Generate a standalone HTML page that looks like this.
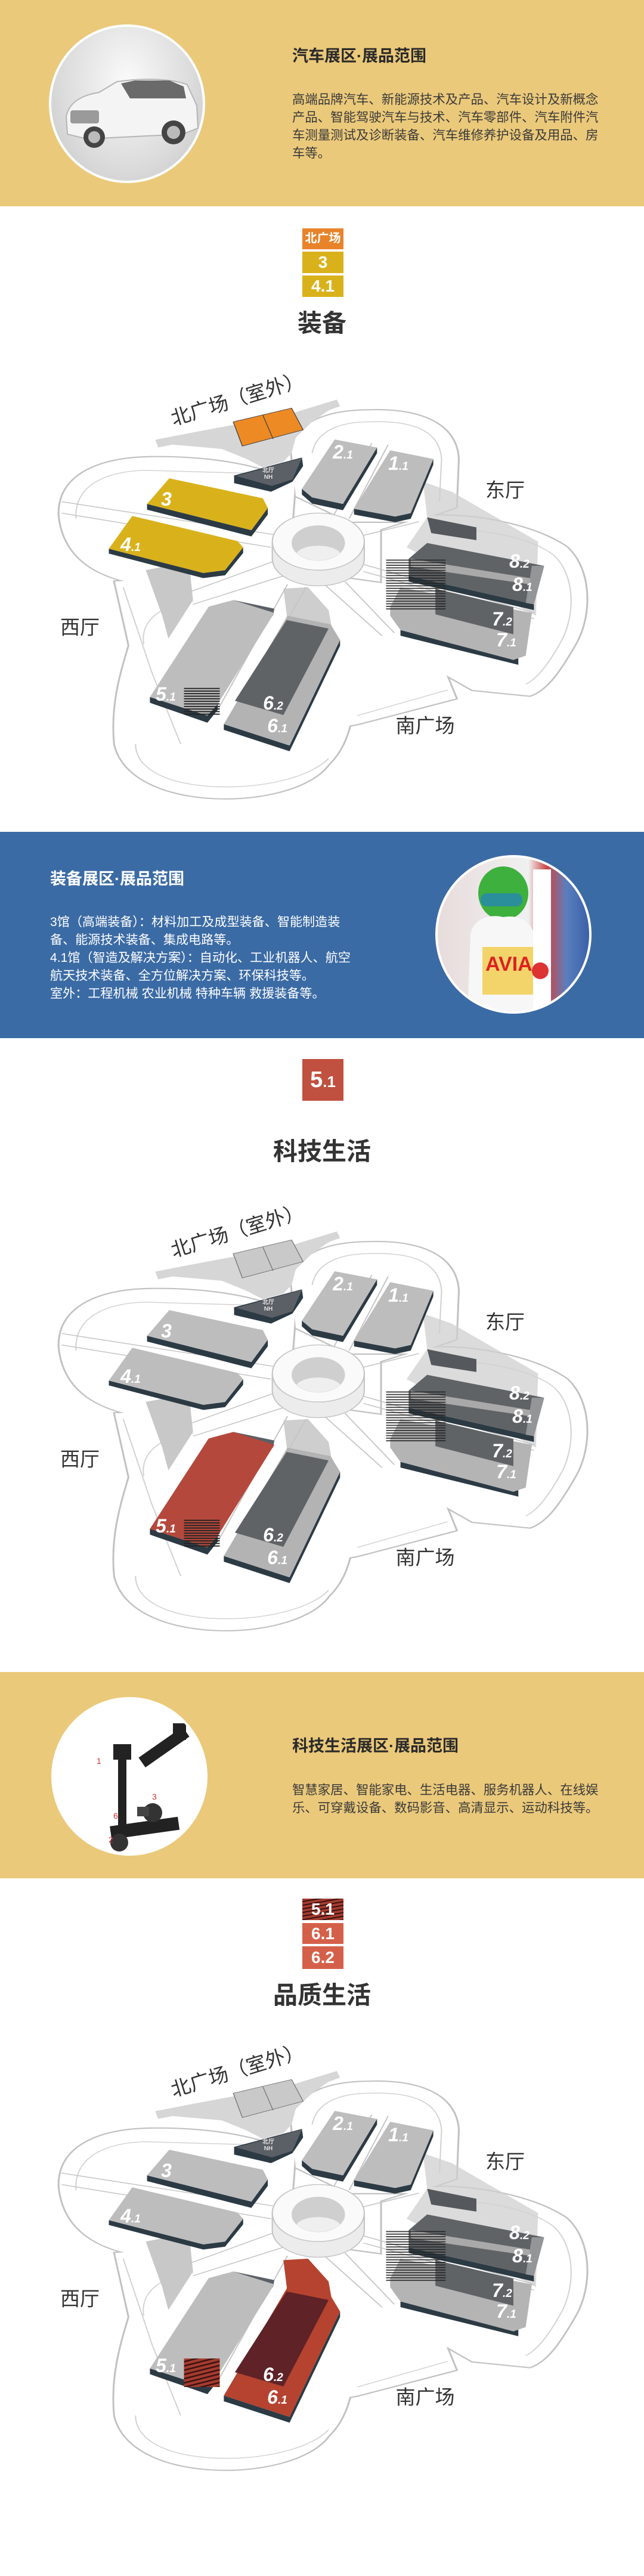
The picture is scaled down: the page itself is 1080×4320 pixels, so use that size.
<!DOCTYPE html>
<html><head><meta charset="utf-8">
<style>
*{margin:0;padding:0;box-sizing:border-box}
body{width:1080px;height:4320px;background:#fff;position:relative;overflow:hidden;font-family:"Liberation Sans","Noto Sans CJK SC",sans-serif}
.abs{position:absolute}
.band{position:absolute;left:0;width:1080px}
.title{position:absolute;font-weight:bold;font-size:27px;line-height:36px;white-space:nowrap}
.body{position:absolute;font-size:21.4px;line-height:30px}
.circ{position:absolute;width:262px;height:266px;border-radius:50%;border:4px solid #fff;overflow:hidden}
.badge{position:absolute;left:507px;width:69px;color:#fff;font-weight:bold;text-align:center;font-size:28px}
.sect{position:absolute;left:0;width:1080px;text-align:center;font-weight:bold;color:#333;font-size:41px;line-height:50px}
.map{position:absolute;left:0;width:1080px;height:750px}
.map svg{position:absolute;left:0;top:0}
.lbl{position:absolute;transform:translate(-50%,-50%);color:#fff;font-weight:bold;font-style:italic;font-size:32px;white-space:nowrap;line-height:1}
.lbl small{font-size:19px}
.zh{position:absolute;transform:translate(-50%,-50%);color:#333;font-size:33px;white-space:nowrap;line-height:1}
.nh{position:absolute;transform:translate(-50%,-50%);color:#e0e0e0;font-size:10px;line-height:11px;text-align:center;font-weight:bold}
</style></head><body>

<svg width="0" height="0" style="position:absolute">
<defs>
<pattern id="hatch" patternUnits="userSpaceOnUse" width="12" height="9"><rect width="12" height="4" fill="#222"/></pattern>
<pattern id="rhatch" patternUnits="userSpaceOnUse" width="14" height="14" patternTransform="rotate(-20)"><rect width="14" height="14" fill="#a33c2e"/><rect width="14" height="5" fill="#3a1010"/></pattern>
<g id="lobes">
<path d="M145,450 C140,300 250,250 350,245 C450,240 560,255 640,290 L720,300 L700,680 L450,700 C300,700 160,650 145,450 Z"/>
<path d="M710,220 C720,120 800,80 900,80 C1000,75 1110,110 1115,250 L1110,420 L1010,470 L850,470 L720,380 Z"/>
<path d="M930,500 L1040,450 C1150,440 1300,480 1380,560 C1440,640 1440,800 1400,900 C1360,1000 1330,1060 1290,1080 L1150,1060 L930,880 Z"/>
<path d="M320,880 C300,780 380,720 460,710 L700,700 L860,740 L870,1000 C860,1150 850,1250 800,1320 C760,1400 650,1440 550,1440 C420,1440 300,1380 280,1250 C270,1100 300,980 320,880 Z"/>
<polygon points="280,680 700,640 1000,700 1110,1090 870,1180 430,1290 330,1000"/>
</g>
<g id="base">
<use href="#lobes" fill="none" stroke="#c2c2c2" stroke-width="9"/>
<use href="#lobes" fill="#fff"/>
<g fill="none" stroke="#d2d2d2" stroke-width="3">
<path d="M185,460 C180,340 260,295 350,290 L600,300"/>
<path d="M760,230 C770,150 830,120 900,120 C990,115 1070,140 1075,250 L1070,400"/>
<path d="M1060,500 C1160,490 1290,520 1350,590 C1400,660 1400,790 1370,880 C1340,960 1310,1020 1280,1040"/>
<path d="M350,900 C340,810 400,760 470,750 M330,1250 C330,1350 430,1400 550,1400 C660,1400 760,1360 800,1300"/>
<path d="M300,700 L370,1000 L440,1250 M870,1150 L1090,1060"/>
</g>
<polygon points="378,183 460,160 700,95 820,42 828,65 800,80 760,120 720,175 710,230 690,260 640,280 600,250 540,215 420,200 385,210" fill="#d6d6d6"/>
<polygon points="355,640 460,610 470,745 410,880 395,800" fill="#c8c8c8"/>
<polygon points="1030,330 1100,365 1310,540 1305,800 990,560 1040,455" fill="#cfcfcf" opacity=".75"/>
<polygon points="1040,455 1160,490 1160,535 1050,510" fill="#55595d"/>
<g stroke="#c4c4c4" stroke-width="3" fill="none">
<line x1="150" y1="400" x2="665" y2="515"/><line x1="150" y1="440" x2="660" y2="560"/>
<line x1="905" y1="195" x2="810" y2="455"/><line x1="945" y1="200" x2="850" y2="460"/>
<line x1="885" y1="620" x2="1300" y2="790"/><line x1="885" y1="645" x2="1300" y2="810"/>
<line x1="700" y1="690" x2="530" y2="1130"/><line x1="745" y1="700" x2="565" y2="1160"/>
<line x1="790" y1="690" x2="930" y2="870"/><line x1="840" y1="680" x2="960" y2="860"/>
<line x1="665" y1="610" x2="455" y2="720"/><line x1="690" y1="660" x2="470" y2="760"/>
<line x1="880" y1="520" x2="1020" y2="470"/>
</g>
<path d="M663,540 L663,600 A112,95 0 0 0 887,600 L887,540 Z" fill="#ececec" stroke="#c4c4c4" stroke-width="3"/>
<ellipse cx="775" cy="540" rx="112" ry="100" fill="#fafafa" stroke="#c4c4c4" stroke-width="3"/>
<ellipse cx="775" cy="545" rx="65" ry="62" fill="#cfcfcf"/>
<path d="M722,580 A55,35 0 0 1 828,580 A65,62 0 0 1 722,580 Z" fill="#efefef"/>
<polygon points="570,308 735,245 738,275 712,330 660,365 570,335" fill="#2c3a44"/>
<polygon points="575,310 735,247 712,322 662,345" fill="#5b5f66"/>
<g fill="#2c3a44">
<polygon points="358,408 612,500 652,422 652,445 612,522 358,428"/>
<polygon points="265,565 495,650 548,640 592,560 592,580 548,658 495,668 265,582"/>
<polygon points="735,355 760,385 835,408 918,210 918,230 835,430 760,407 735,375"/>
<polygon points="862,425 962,452 1000,440 1055,250 1055,270 1000,460 962,472 862,445"/>
<polygon points="365,1085 505,1150 530,1110 530,1130 505,1175 365,1105"/>
<polygon points="545,1180 705,1255 828,885 828,905 705,1275 545,1200"/>
<polygon points="995,660 1300,760 1300,780 995,680"/>
<polygon points="975,850 1262,950 1262,972 975,870"/>
</g>
<polygon points="995,600 1040,545 1325,625 1300,760 995,660" fill="#606366"/>
<polygon points="1000,600 1290,668 1290,690 1000,628" fill="#a9a9a9"/>
<polygon points="1295,625 1325,625 1300,760 1280,755" fill="#b8b8b8" opacity=".6"/>
<polygon points="950,770 975,700 1295,790 1280,940 1250,955 975,850 950,800" fill="#b4b4b4"/>
<polygon points="1060,705 1250,770 1250,865 1060,795" fill="#606366"/>
<rect x="940" y="600" width="145" height="180" fill="url(#hatch)" opacity=".85"/>
<polygon points="815,182 918,210 835,408 760,385 735,355" fill="#bdbdbd"/>
<polygon points="950,220 1055,250 1000,440 962,452 862,425" fill="#bdbdbd"/>
<polygon points="568,745 668,775 665,800 560,770" fill="#5b5f66"/>
</g>
<polygon id="h3" points="358,408 412,318 640,388 652,422 612,500"/>
<polygon id="h41" points="265,565 322,450 578,538 592,560 548,640 495,650"/>
<polygon id="h5" points="365,1085 508,768 568,745 668,790 530,1110 505,1150"/>
<polygon id="h6" points="545,1180 700,800 805,830 828,885 705,1255"/>
<polygon id="h62" points="572,1098 698,815 800,845 690,1148"/>
<polygon id="nbox" points="568,120 710,72 738,148 590,205"/>
<polygon id="sband" points="690,705 750,700 800,780 810,860 700,820"/>
<rect id="h5hatch" x="448" y="1050" width="87" height="100"/>
</defs>
</svg>

<div class="band" style="top:0;height:346px;background:#ebc97a"></div>
<div class="circ" style="left:82px;top:41px;background:radial-gradient(ellipse at 50% 35%,#fafafa 0%,#dcdcdc 60%,#c4c4c4 100%)">
<svg width="262" height="266" viewBox="0 0 262 266">
<path d="M25,150 C30,128 48,115 80,110 L110,92 C150,86 200,86 228,97 L244,132 L246,170 L220,180 L60,188 L27,180 Z" fill="#f4f4f4" stroke="#b5b5b5" stroke-width="2"/>
<path d="M117,95 L140,90 L198,90 L222,100 L226,120 L132,120 Z" fill="#6a6a6a"/>
<rect x="32" y="140" width="48" height="22" fill="#9a9a9a" rx="4"/>
<circle cx="72" cy="185" r="18" fill="#444"/><circle cx="72" cy="185" r="10" fill="#bbb"/>
<circle cx="205" cy="177" r="20" fill="#444"/><circle cx="205" cy="177" r="11" fill="#bbb"/>
</svg></div>
<div class="title" style="left:490px;top:76px;color:#2a2a2a">汽车展区·展品范围</div>
<div class="body" style="left:490px;top:152px;width:520px;color:#3a3a3a">高端品牌汽车、新能源技术及产品、汽车设计及新概念产品、智能驾驶汽车与技术、汽车零部件、汽车附件汽车测量测试及诊断装备、汽车维修养护设备及用品、房车等。</div>

<div class="badge" style="top:383px;height:35px;background:#e8832a;font-size:20px;line-height:35px">北广场</div>
<div class="badge" style="top:422px;height:36px;background:#d9b21b;line-height:36px">3</div>
<div class="badge" style="top:462px;height:36px;background:#d9b21b;line-height:36px">4.1</div>
<div class="sect" style="top:517px">装备</div>

<div class="map" style="top:650px">
<svg width="1080" height="750" viewBox="0 0 1568 1568" preserveAspectRatio="none">
<use href="#base"/>
<use href="#nbox" fill="#ee8a24" stroke="#444" stroke-width="2"/><line x1="640" y1="97" x2="665" y2="180" stroke="#444" stroke-width="2"/>
<use href="#h3" fill="#d9b21b"/><use href="#h41" fill="#d9b21b"/>
<use href="#sband" fill="#c5c5c5" opacity=".85"/>
<use href="#h5" fill="#bdbdbd"/><use href="#h5hatch" fill="url(#hatch)"/>
<use href="#h6" fill="#b3b3b3"/><use href="#h62" fill="#5f6366"/>
</svg>
</div>

<div class="band" style="top:1395px;height:346px;background:#3b6ba5"></div>
<div class="title" style="left:84px;top:1456px;color:#fff">装备展区·展品范围</div>
<div class="body" style="left:84px;top:1532px;width:515px;color:#fff;font-size:21.1px">3馆（高端装备）：材料加工及成型装备、智能制造装备、能源技术装备、集成电路等。<br>4.1馆（智造及解决方案）：自动化、工业机器人、航空航天技术装备、全方位解决方案、环保科技等。<br>室外：工程机械 农业机械 特种车辆 救援装备等。</div>
<div class="circ" style="left:730px;top:1434px;background:linear-gradient(90deg,#e8dcdc 0%,#f0f0f0 60%,#c44 72%,#5a7fbf 85%,#3a60a8 100%)">
<svg width="262" height="266" viewBox="0 0 262 266">
<ellipse cx="110" cy="60" rx="42" ry="45" fill="#3db03d"/>
<rect x="72" y="60" width="70" height="22" rx="10" fill="#2a8f9a"/>
<path d="M55,130 C60,100 90,95 110,100 C140,95 160,110 165,140 L170,266 L50,266 Z" fill="#f7f7f7"/>
<rect x="75" y="150" width="90" height="80" fill="#f3d46a"/>
<text x="80" y="190" font-family="Liberation Sans" font-weight="bold" font-size="34" fill="#d22">AVIA</text>
<rect x="160" y="20" width="30" height="246" fill="#fff"/>
<circle cx="172" cy="190" r="14" fill="#d33"/>
</svg></div>

<div class="badge" style="top:1776px;height:70px;background:#c0503f;font-size:38px;line-height:70px">5<small style="font-size:26px">.1</small></div>
<div class="sect" style="top:1906px">科技生活</div>

<div class="map" style="top:2045px">
<svg width="1080" height="750" viewBox="0 0 1568 1568" preserveAspectRatio="none">
<use href="#base"/>
<use href="#nbox" fill="#c9c9c9" stroke="#777" stroke-width="2"/><line x1="640" y1="97" x2="665" y2="180" stroke="#777" stroke-width="2"/>
<use href="#h3" fill="#bdbdbd"/><use href="#h41" fill="#bdbdbd"/>
<use href="#sband" fill="#c5c5c5" opacity=".85"/>
<use href="#h5" fill="#b5483c"/><use href="#h5hatch" fill="url(#hatch)"/>
<use href="#h6" fill="#b3b3b3"/><use href="#h62" fill="#5f6366"/>
</svg>
</div>

<div class="band" style="top:2804px;height:346px;background:#ebc97a"></div>
<div class="circ" style="left:86px;top:2846px;background:#fff">
<svg width="262" height="266" viewBox="0 0 262 266">
<rect x="108" y="95" width="14" height="120" fill="#222"/>
<rect x="100" y="75" width="30" height="26" fill="#222"/>
<rect x="140" y="70" width="90" height="20" fill="#222" transform="rotate(-35 185 80)"/>
<rect x="200" y="40" width="22" height="28" fill="#222"/>
<rect x="95" y="205" width="115" height="22" fill="#222" transform="rotate(-8 150 215)"/>
<circle cx="166" cy="190" r="16" fill="#333"/><circle cx="110" cy="240" r="15" fill="#333"/>
<rect x="140" y="180" width="20" height="16" fill="#444"/>
<text x="72" y="108" font-size="14" fill="#d33">1</text><text x="100" y="200" font-size="14" fill="#d33">6</text>
<text x="92" y="240" font-size="14" fill="#d33">2</text><text x="165" y="168" font-size="14" fill="#d33">3</text>
</svg></div>
<div class="title" style="left:490px;top:2910px;color:#2a2a2a">科技生活展区·展品范围</div>
<div class="body" style="left:490px;top:2987px;width:520px;color:#3a3a3a">智慧家居、智能家电、生活电器、服务机器人、在线娱乐、可穿戴设备、数码影音、高清显示、运动科技等。</div>

<div class="badge" style="top:3184px;height:36px;background:repeating-linear-gradient(170deg,#a33c2e 0 4px,#3a1010 4px 6px);line-height:36px">5.1</div>
<div class="badge" style="top:3225px;height:35px;background:#d5604a;line-height:35px">6.1</div>
<div class="badge" style="top:3264px;height:38px;background:#d5604a;line-height:38px">6.2</div>
<div class="sect" style="top:3321px">品质生活</div>

<div class="map" style="top:3453px">
<svg width="1080" height="750" viewBox="0 0 1568 1568" preserveAspectRatio="none">
<use href="#base"/>
<use href="#nbox" fill="#c9c9c9" stroke="#777" stroke-width="2"/><line x1="640" y1="97" x2="665" y2="180" stroke="#777" stroke-width="2"/>
<use href="#h3" fill="#bdbdbd"/><use href="#h41" fill="#bdbdbd"/>
<use href="#sband" fill="#b5432f"/>
<use href="#h5" fill="#bdbdbd"/><use href="#h5hatch" fill="url(#rhatch)"/>
<use href="#h6" fill="#b5432f"/><use href="#h62" fill="#5e2227"/>
</svg>
</div>

<div class="abs" style="left:0;top:650px;width:1080px;height:750px">
<div class="zh" style="left:398px;top:19px;transform:translate(-50%,-50%) rotate(-17deg)">北广场（室外）</div>
<div class="zh" style="left:847px;top:172px">东厅</div><div class="zh" style="left:134px;top:402px">西厅</div><div class="zh" style="left:713px;top:567px">南广场</div>
<div class="nh" style="left:450px;top:145px">北厅<br>NH</div>
<div class="lbl" style="left:279px;top:187px">3</div><div class="lbl" style="left:219px;top:263px">4<small>.1</small></div>
<div class="lbl" style="left:575px;top:108px">2<small>.1</small></div><div class="lbl" style="left:668px;top:127px">1<small>.1</small></div>
<div class="lbl" style="left:871px;top:291px">8<small>.2</small></div><div class="lbl" style="left:876px;top:330px">8<small>.1</small></div>
<div class="lbl" style="left:842px;top:388px">7<small>.2</small></div><div class="lbl" style="left:849px;top:423px">7<small>.1</small></div>
<div class="lbl" style="left:278px;top:514px">5<small>.1</small></div><div class="lbl" style="left:458px;top:529px">6<small>.2</small></div><div class="lbl" style="left:465px;top:567px">6<small>.1</small></div>
</div>
<div class="abs" style="left:0;top:2045px;width:1080px;height:750px">
<div class="zh" style="left:398px;top:19px;transform:translate(-50%,-50%) rotate(-17deg)">北广场（室外）</div>
<div class="zh" style="left:847px;top:172px">东厅</div><div class="zh" style="left:134px;top:402px">西厅</div><div class="zh" style="left:713px;top:567px">南广场</div>
<div class="nh" style="left:450px;top:145px">北厅<br>NH</div>
<div class="lbl" style="left:279px;top:187px">3</div><div class="lbl" style="left:219px;top:263px">4<small>.1</small></div>
<div class="lbl" style="left:575px;top:108px">2<small>.1</small></div><div class="lbl" style="left:668px;top:127px">1<small>.1</small></div>
<div class="lbl" style="left:871px;top:291px">8<small>.2</small></div><div class="lbl" style="left:876px;top:330px">8<small>.1</small></div>
<div class="lbl" style="left:842px;top:388px">7<small>.2</small></div><div class="lbl" style="left:849px;top:423px">7<small>.1</small></div>
<div class="lbl" style="left:278px;top:514px">5<small>.1</small></div><div class="lbl" style="left:458px;top:529px">6<small>.2</small></div><div class="lbl" style="left:465px;top:567px">6<small>.1</small></div>
</div>
<div class="abs" style="left:0;top:3453px;width:1080px;height:750px">
<div class="zh" style="left:398px;top:19px;transform:translate(-50%,-50%) rotate(-17deg)">北广场（室外）</div>
<div class="zh" style="left:847px;top:172px">东厅</div><div class="zh" style="left:134px;top:402px">西厅</div><div class="zh" style="left:713px;top:567px">南广场</div>
<div class="nh" style="left:450px;top:145px">北厅<br>NH</div>
<div class="lbl" style="left:279px;top:187px">3</div><div class="lbl" style="left:219px;top:263px">4<small>.1</small></div>
<div class="lbl" style="left:575px;top:108px">2<small>.1</small></div><div class="lbl" style="left:668px;top:127px">1<small>.1</small></div>
<div class="lbl" style="left:871px;top:291px">8<small>.2</small></div><div class="lbl" style="left:876px;top:330px">8<small>.1</small></div>
<div class="lbl" style="left:842px;top:388px">7<small>.2</small></div><div class="lbl" style="left:849px;top:423px">7<small>.1</small></div>
<div class="lbl" style="left:278px;top:514px">5<small>.1</small></div><div class="lbl" style="left:458px;top:529px">6<small>.2</small></div><div class="lbl" style="left:465px;top:567px">6<small>.1</small></div>
</div>

</body></html>
